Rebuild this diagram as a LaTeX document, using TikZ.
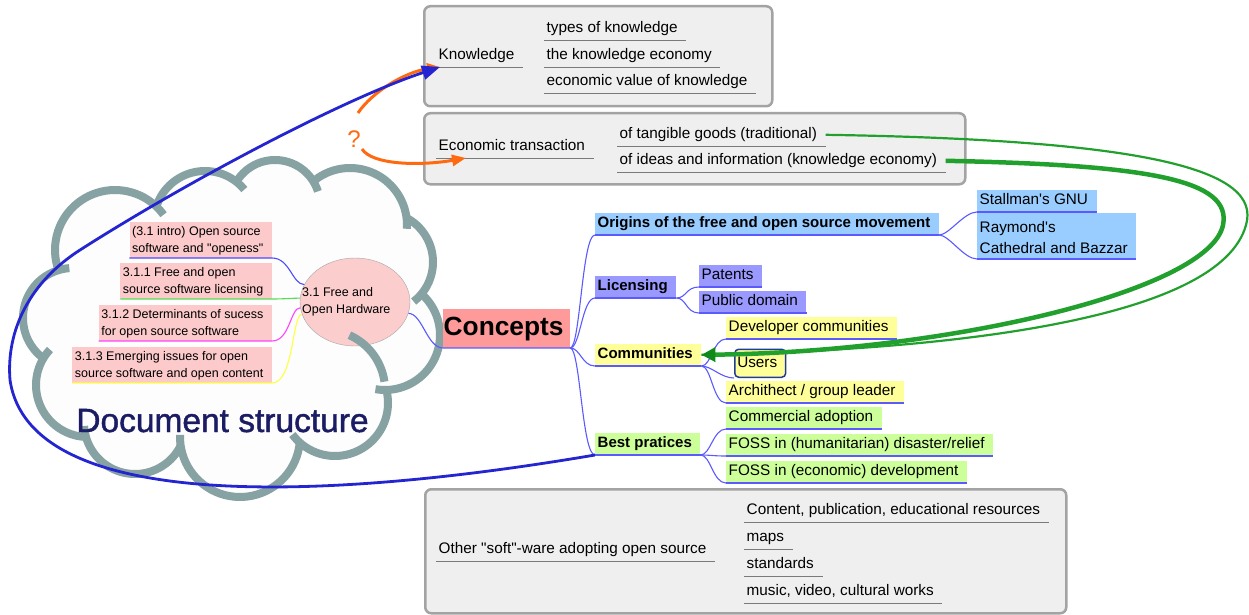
\documentclass[tikz,border=0pt]{standalone}
\usepackage{fontspec}
\newfontfamily\af{Liberation Sans}
\newfontfamily\afheavy{Liberation Sans}[FakeBold=1.3]
\usetikzlibrary{arrows.meta,shapes.geometric}

\definecolor{gfill}{HTML}{EFEFEF}
\definecolor{gborder}{HTML}{A3A3A3}
\definecolor{ulgray}{HTML}{7A7A7A}
\definecolor{mmblue}{HTML}{5A5AFF}
\definecolor{cloudc}{HTML}{87A2A3}
\definecolor{cloudin}{HTML}{FDFDFD}
\definecolor{pinkbox}{HTML}{FCCACA}
\definecolor{ellfill}{HTML}{FCCDCD}
\definecolor{concc}{HTML}{FF9A9A}
\definecolor{lblue}{HTML}{99CCFF}
\definecolor{lav}{HTML}{9999FF}
\definecolor{lyel}{HTML}{FFFF99}
\definecolor{lgreen}{HTML}{CCFF99}
\definecolor{navy}{HTML}{203C96}
\definecolor{docblue}{HTML}{1C1C64}
\definecolor{arrblue}{HTML}{2424D0}
\definecolor{orng}{HTML}{FF6A10}
\definecolor{grn}{HTML}{22A02E}
\definecolor{dgrn}{HTML}{0E8A18}
\definecolor{pkblue}{HTML}{4A4AFF}
\definecolor{pkgreen}{HTML}{55DD55}
\definecolor{pkmag}{HTML}{FF44FF}
\definecolor{pkyel}{HTML}{FFFF44}

% underline below a label node
\newcommand\uline[2]{\draw[#1] (#2.south west) -- (#2.south east);}
% mind-map branch from a parent's underline end to a child's underline start
\newcommand\mbranch[2]{\draw[mmline] (#1.south east) .. controls +(10,0) and +(-13,0) .. (#2.south west);}

\begin{document}
\begin{tikzpicture}[x=1pt,y=-1pt,
  fs/.style={font=\af\fontsize{15.3}{18}\selectfont},
  lbl/.style={fs, anchor=south west, inner xsep=2.5, inner ysep=3.5,
    text height=11.5, text depth=3.5, execute at end node={\hspace*{6pt}}},
  bbl/.style={lbl, font=\af\bfseries\fontsize{15}{18}\selectfont},
  lbm/.style={font=\af\fontsize{15.3}{21}\selectfont, anchor=south west, align=left,
    inner xsep=2.5, inner ysep=2.5, text depth=2.5, execute at end node={\hspace*{6pt}}},
  smallt/.style={font=\af\fontsize{12.5}{16.7}\selectfont},
  pbox/.style={smallt, fill=pinkbox, anchor=south east, align=left,
    inner xsep=2.5, inner ysep=4.5, text depth=1},
  gbox/.style={draw=gborder, fill=gfill, line width=2.5, rounded corners=6, anchor=north west, inner sep=0},
  ulline/.style={draw=ulgray, line width=0.9},
  mmline/.style={draw=mmblue, line width=1.1},
  cloudline/.style={draw=cloudc, line width=8},
  pkline/.style={line width=1.1},
]
\useasboundingbox (0,0) rectangle (1249,615);

% ---------- grey topic boxes ----------
\node[gbox, minimum width=348, minimum height=100] (kbox) at (423,5) {};
\node[gbox, minimum width=541, minimum height=71] (ebox) at (423,112) {};
\node[gbox, minimum width=641, minimum height=124] (obox) at (424,488) {};

\node[lbl] (know) at (436,67) {Knowledge};
\node[lbl] (k1) at (544,40) {types of knowledge};
\node[lbl] (k2) at (544,67) {the knowledge economy};
\node[lbl] (k3) at (544,93) {economic value of knowledge};
\foreach \n in {know,k1,k2,k3} {\uline{ulline}{\n}}

\node[lbl] (econ) at (436,158) {Economic transaction};
\node[lbl] (e1) at (617,146) {of tangible goods (traditional)};
\node[lbl] (e2) at (617,172) {of ideas and information (knowledge economy)};
\foreach \n in {econ,e1,e2} {\uline{ulline}{\n}}

\node[lbl] (other) at (436,561) {Other "soft"-ware adopting open source};
\node[lbl] (o1) at (744,522) {Content, publication, educational resources};
\node[lbl] (o2) at (744,549) {maps};
\node[lbl] (o3) at (744,576) {standards};
\node[lbl] (o4) at (744,603) {music, video, cultural works};
\foreach \n in {other,o1,o2,o3,o4} {\uline{ulline}{\n}}

% ---------- cloud: blank interior, then one rim arc per bump (notch to notch, with a short tail) ----------
\def\cloudarcs{115/250/60/160.4/324, 205/222/51/197.7/320.5, 275/205/45/210.9/342.4,
  350/225/57/229.9/363.8, 383/262/50/-61.9/52.2, 385/335/55/-48.3/100,
  335/403/53/-14.1/143.5, 240/437/60/5.3/182.1, 135/423/51/26.6/176.6,
  88/385/52/92.3/223, 73/318/50/126.3/265.8}
\foreach \cx/\cy/\r/\a/\b in \cloudarcs {\fill[cloudin] (\cx,\cy) circle[radius=\r];}
\fill[cloudin] (115,250) -- (205,222) -- (275,205) -- (350,225) -- (383,262) -- (385,335)
  -- (335,403) -- (240,437) -- (135,423) -- (88,385) -- (73,318) -- cycle;
\foreach \cx/\cy/\r/\a/\b in \cloudarcs {
  \draw[cloudline] plot[domain=\a:\b, samples=40] ({\cx+\r*cos(\x)},{\cy+\r*sin(\x)});
}

% ---------- document structure ----------
\node[ellipse, draw=gray!70, fill=ellfill, minimum width=110, minimum height=88, inner sep=0] (fh) at (355,302) {};
\draw[cloudline] plot[domain=-66:-8, samples=25] ({325+60*cos(\x)},{390+60*sin(\x)});
\node[smallt, anchor=west, align=left, inner sep=0] (fht) at (302,301.5) {3.1 Free and\\Open Hardware};

\node[pbox] (p0) at (272,258) {(3.1 intro) Open source\\software and "openess"\hspace*{6pt}};
\node[pbox] (p1) at (272,299) {3.1.1 Free and open\\source software licensing\hspace*{6pt}};
\node[pbox] (p2) at (272,341) {3.1.2 Determinants of sucess\hspace*{6pt}\\for open source software};
\node[pbox] (p3) at (272,383) {3.1.3 Emerging issues for open\\source software and open content\hspace*{6pt}};

\draw[pkline, pkblue] (p0.south west) -- (p0.south east) .. controls +(18,0) and +(-12,0) .. (fh.161);
\draw[pkline, pkgreen] (p1.south west) -- (p1.south east) .. controls +(12,0) and +(-8,0) .. (fh.176);
\draw[pkline, pkmag] (p2.south west) -- (p2.south east) .. controls +(18,0) and +(-10,0) .. (fh.186);
\draw[pkline, pkyel] (p3.south west) -- (p3.south east) .. controls +(22,0) and +(-10,0) .. (fh.193);

\node[font=\afheavy\fontsize{33.5}{36}\selectfont, text=docblue, anchor=base, inner sep=0] (ds) at (222.5,432) {Document structure};

% ---------- concepts mind map ----------
\node[fill=concc, anchor=south west, font=\af\bfseries\fontsize{26.3}{30}\selectfont,
  inner xsep=0.5, inner ysep=8, text height=19, text depth=4,
  execute at end node={\hspace*{6pt}}] (concepts) at (443,348) {Concepts};
\draw[mmline] (fh.-12) .. controls +(14,0) and +(-16,0) .. (concepts.south west) -- (concepts.south east);

\node[bbl, fill=lblue] (orig) at (595,235) {Origins of the free and open source movement};
\node[bbl, fill=lav] (lic) at (595,298) {Licensing};
\node[bbl, fill=lyel] (comm) at (595,366) {Communities};
\node[bbl, fill=lgreen] (best) at (595,455) {Best pratices};

\node[lbl, fill=lblue] (gnu) at (977,212) {Stallman's GNU};
\node[lbm, fill=lblue] (ray) at (977,259) {\rule{0pt}{17.5pt}Raymond's\\Cathedral and Bazzar};

\node[lbl, fill=lav] (pat) at (699,287) {Patents};
\node[lbl, fill=lav] (pub) at (699,313) {Public domain};

\node[lbl, fill=lyel] (dev) at (726,339) {Developer communities};
\node[lbl, fill=lyel, draw=navy, line width=1.5, rounded corners=4, inner ysep=6.5] (users) at (734,378) {Users};
\node[lbl, fill=lyel] (arch) at (726,403) {Archithect / group leader};

\node[lbl, fill=lgreen] (com) at (726,429) {Commercial adoption};
\node[lbl, fill=lgreen] (hum) at (726,456) {FOSS in (humanitarian) disaster/relief};
\node[lbl, fill=lgreen] (eco) at (726,483) {FOSS in (economic) development};

\foreach \n in {orig,lic,comm,best,gnu,ray,pat,pub,dev,arch,com,hum,eco} {\uline{mmline}{\n}}

\mbranch{concepts}{orig}
\mbranch{concepts}{lic}
\mbranch{concepts}{comm}
\mbranch{concepts}{best}
\mbranch{orig}{gnu}
\mbranch{orig}{ray}
\mbranch{lic}{pat}
\mbranch{lic}{pub}
\mbranch{comm}{dev}
\mbranch{comm}{users}
\mbranch{comm}{arch}
\mbranch{best}{com}
\mbranch{best}{hum}
\mbranch{best}{eco}

% ---------- relationship arrows ----------
\draw[grn, line width=2.2] (e1.east) .. controls (1150,140) and (1262,170) .. (1246,225)
  .. controls (1220,320) and (950,350) .. (comm.east);
\draw[grn, line width=4.5, -{Triangle[length=14,width=14,color=dgrn]}] (e2.east)
  .. controls (1150,165) and (1232,180) .. (1223,225)
  .. controls (1210,290) and (950,352) .. (comm.east);

\node[font=\af\fontsize{24}{26}\selectfont, text=orng, inner sep=0] (q) at (354,139) {?};
\coordinate (qa) at (358,113);
\coordinate (qb) at (362,149);
\draw[orng, line width=3, -{Triangle[length=13,width=11]}] (qa) .. controls (372,92) and (405,72) .. ([xshift=4pt]know.south west);
\draw[orng, line width=3, -{Triangle[length=14,width=11]}] (qb) .. controls (372,165) and (420,166) .. ([xshift=30pt]econ.south west);

\draw[arrblue, line width=2.8, -{Triangle[length=18,width=14]}] (best.south west)
  .. controls (330,500) and (30,515) .. (10,380)
  .. controls (6,330) and (30,282) .. (80,250)
  .. controls (180,186) and (340,100) .. ([xshift=4pt]know.south west);
\end{tikzpicture}
\end{document}
